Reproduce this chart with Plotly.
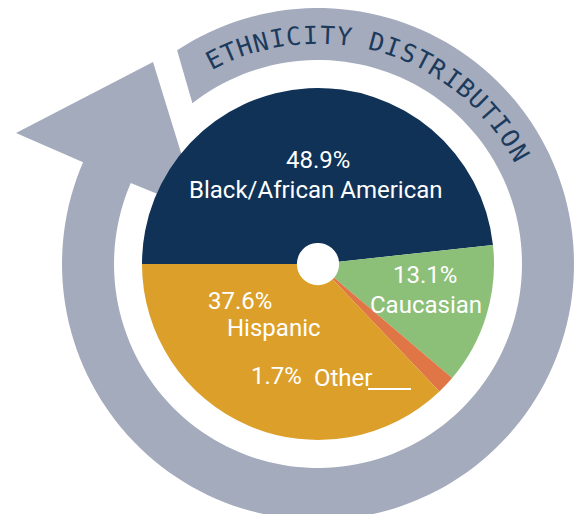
import math
import plotly.graph_objects as go

# ---- data ----
categories = ["Black/African American", "Caucasian", "Other", "Hispanic"]
values = [48.9, 13.1, 1.7, 37.6]
pct_labels = ["48.9%", "13.1%", "1.7%", "37.6%"]
colors = ["#0f3256", "#8cbf78", "#e07545", "#dca02a"]
title_text = "ETHNICITY DISTRIBUTION"

W, H = 576, 514
CX, CY = 318, 264          # centre of pie / ring (pixels)
R_PIE = 176
R_IN, R_OUT = 204, 256
RING_COLOR = "#a4abbc"
TITLE_COLOR = "#1b3a5c"


def pt(theta_deg, r):
    t = math.radians(theta_deg)
    return CX + r * math.sin(t), CY - r * math.cos(t)


# ---- ring + arrow path ----
pts = []
a0_out, a0_in, a_end = -33.4, -38.0, 293.4
n = 160
for i in range(n + 1):
    a = a0_out + (a_end - a0_out) * i / n
    pts.append(pt(a, R_OUT))
pts += [(16, 133), (153, 62), (199, 211)]
for i in range(n + 1):
    a = a_end + (a0_in - a_end) * i / n
    pts.append(pt(a, R_IN))
path = "M " + " L ".join(f"{x:.2f},{y:.2f}" for x, y in pts) + " Z"

fig = go.Figure()

fig.add_trace(go.Pie(
    labels=categories,
    values=values,
    marker=dict(colors=colors, line=dict(width=0)),
    sort=False,
    direction="clockwise",
    rotation=270,
    hole=0.12,
    textinfo="none",
    hoverinfo="skip",
    showlegend=False,
    domain=dict(x=[(CX - R_PIE) / W, (CX + R_PIE) / W],
                y=[1 - (CY + R_PIE) / H, 1 - (CY - R_PIE) / H]),
))

shapes = [
    dict(type="path", path=path, xref="x", yref="y", layer="below",
         fillcolor=RING_COLOR, line=dict(width=0)),
    dict(type="line", xref="x", yref="y", x0=368, x1=411, y0=389, y1=389,
         line=dict(color="white", width=2), layer="above"),
]

lab_font = dict(family="Roboto, sans-serif", size=24, color="white")
annotations = []
label_pos = {
    0: [((318, 160), pct_labels[0]), ((316, 190), categories[0])],
    1: [((425, 275), pct_labels[1]), ((426, 305), categories[1])],
    3: [((240, 301), pct_labels[3]), ((274, 328), categories[3])],
    2: [((276, 376), pct_labels[2]), ((343, 378), categories[2])],
}
for k, items in label_pos.items():
    for (x, y), txt in items:
        annotations.append(dict(x=x, y=y, xref="x", yref="y", text=txt,
                                showarrow=False, font=lab_font,
                                xanchor="center", yanchor="middle"))

# curved title
start, step = -27.0, 4.19
for i, ch in enumerate(title_text):
    if ch == " ":
        continue
    a = start + i * step
    x, y = pt(a, 229)
    annotations.append(dict(x=x, y=y, xref="x", yref="y", text=ch,
                            showarrow=False, textangle=a,
                            font=dict(family="DejaVu Sans Mono", size=25,
                                      color=TITLE_COLOR),
                            xanchor="center", yanchor="middle"))

fig.update_layout(
    width=W, height=H,
    margin=dict(l=0, r=0, t=0, b=0),
    paper_bgcolor="white", plot_bgcolor="white",
    xaxis=dict(range=[0, W], visible=False, domain=[0, 1], fixedrange=True),
    yaxis=dict(range=[H, 0], visible=False, domain=[0, 1], fixedrange=True),
    shapes=shapes,
    annotations=annotations,
    showlegend=False,
    hovermode=False,
)

fig.write_html("out.html",
               config={"displayModeBar": False, "staticPlot": True},
               post_script="document.body.style.margin='0px';")
